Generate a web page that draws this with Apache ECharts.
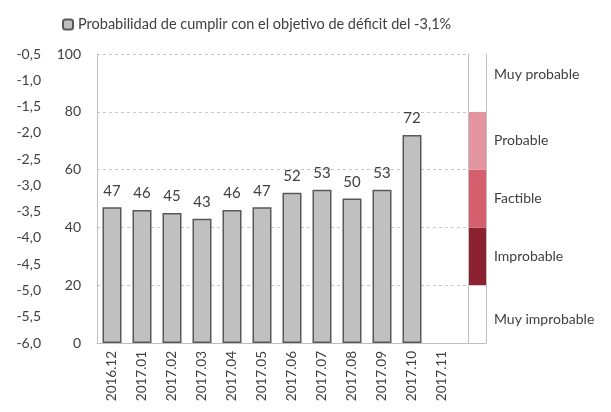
<!DOCTYPE html>
<html>
<head>
<meta charset="utf-8">
<script src="https://cdn.jsdelivr.net/npm/echarts@6/dist/echarts.min.js"></script>
<style>
  html, body { margin: 0; padding: 0; background: #fff; }
  #chart { width: 611px; height: 412px; }
</style>
</head>
<body>
<div id="chart"></div>
<script>
// data
const categories = ['2016.12', '2017.01', '2017.02', '2017.03', '2017.04', '2017.05',
  '2017.06', '2017.07', '2017.08', '2017.09', '2017.10', '2017.11']
const probability = [47, 46, 45, 43, 46, 47, 52, 53, 50, 53, 72, null]
const seriesName = 'Probabilidad de cumplir con el objetivo de déficit del -3,1%'
// band strip on the right, from bottom to top
const bandNames = ['Muy improbable', 'Improbable', 'Factible', 'Probable', 'Muy probable']
const bandSizes = [20, 20, 20, 20, 20]
const bandColors = ['#ffffff', '#8b2232', '#d65f6e', '#e3959f', '#ffffff']
// deficit scale on the far left
const deficitMin = -6
const deficitMax = -0.5

const FONT = 'Lato'
const TXT = '#404040'
const gridTop = 54, gridHeight = 289

const chart = echarts.init(document.getElementById('chart'))

const bandSeries = bandNames.map((name, i) => ({
  name: name,
  type: 'bar',
  xAxisIndex: 2,
  yAxisIndex: 3,
  stack: 'band',
  barWidth: '100%',
  data: [bandSizes[i]],
  itemStyle: { color: bandColors[i] },
  label: {
    show: true,
    position: 'right',
    distance: 8,
    formatter: name,
    color: TXT,
    fontFamily: FONT,
    fontSize: 14,
    offset: i === 4 ? [0, -8] : (i === 0 ? [0, 5] : [0, 0])
  },
  silent: true
}))

const option = {
  backgroundColor: '#fff',
  animation: false,
  legend: {
    data: [seriesName],
    left: 57,
    top: 12,
    itemWidth: 10,
    itemHeight: 10,
    itemGap: 3,
    textStyle: { color: TXT, fontFamily: FONT, fontSize: 14.5 }
  },
  grid: [
    { left: 97, top: gridTop, width: 360, height: gridHeight },
    /*只画虚线延伸*/
    { left: 457, top: gridTop, width: 11, height: gridHeight },
    /*右侧色带*/
    { left: 468, top: gridTop, width: 18, height: gridHeight }
  ],
  xAxis: [
    {
      type: 'category',
      gridIndex: 0,
      data: categories,
      axisLine: { lineStyle: { color: '#bfbfbf' } },
      axisTick: { show: false },
      axisLabel: { rotate: 90, color: TXT, fontFamily: FONT, fontSize: 13.5, margin: 8, interval: 0 }
    },
    {
      type: 'value',
      gridIndex: 1,
      min: 0,
      max: 1,
      axisLine: { show: true, lineStyle: { color: '#bfbfbf' } },
      axisTick: { show: false },
      axisLabel: { show: false },
      splitLine: { show: false }
    },
    {
      type: 'category',
      gridIndex: 2,
      data: [''],
      z: 5,
      axisLine: { show: true, lineStyle: { color: '#bfbfbf' } },
      axisTick: { show: false },
      axisLabel: { show: false }
    }
  ],
  yAxis: [
    {
      type: 'value',
      gridIndex: 0,
      min: 0,
      max: 100,
      interval: 20,
      axisLine: { show: true, lineStyle: { color: '#bfbfbf' } },
      axisTick: { show: false },
      axisLabel: { color: TXT, fontFamily: FONT, fontSize: 14, margin: 16 },
      splitLine: { lineStyle: { color: '#c8c8c8', type: [3, 3] } }
    },
    {
      type: 'value',
      gridIndex: 0,
      position: 'left',
      offset: 48,
      min: deficitMin,
      max: deficitMax,
      interval: 0.5,
      axisLine: { show: false },
      axisTick: { show: false },
      splitLine: { show: false },
      axisLabel: {
        color: TXT, fontFamily: FONT, fontSize: 14, margin: 8,
        formatter: v => v.toFixed(1).replace('.', ',')
      }
    },
    {
      type: 'value',
      gridIndex: 1,
      min: 0,
      max: 100,
      interval: 20,
      axisLine: { show: false },
      axisTick: { show: false },
      axisLabel: { show: false },
      splitLine: { lineStyle: { color: '#c8c8c8', type: [3, 3] } }
    },
    {
      type: 'value',
      gridIndex: 2,
      min: 0,
      max: 100,
      z: 5,
      axisLine: { show: true, lineStyle: { color: '#bfbfbf' } },
      axisTick: { show: false },
      axisLabel: { show: false },
      splitLine: { show: false }
    },
    {
      type: 'value',
      gridIndex: 2,
      position: 'right',
      min: 0,
      max: 100,
      z: 5,
      axisLine: { show: true, lineStyle: { color: '#bfbfbf' } },
      axisTick: { show: false },
      axisLabel: { show: false },
      splitLine: { show: false }
    }
  ],
  series: [
    {
      name: seriesName,
      type: 'bar',
      xAxisIndex: 0,
      yAxisIndex: 0,
      barWidth: 19,
      data: probability,
      itemStyle: { color: '#c0c0c0', borderColor: '#595959', borderWidth: 1.5 },
      label: {
        show: true,
        position: 'top',
        distance: 9,
        color: TXT,
        fontFamily: FONT,
        fontSize: 15
      }
    }
  ].concat(bandSeries)
}

chart.setOption(option)
</script>
</body>
</html>
